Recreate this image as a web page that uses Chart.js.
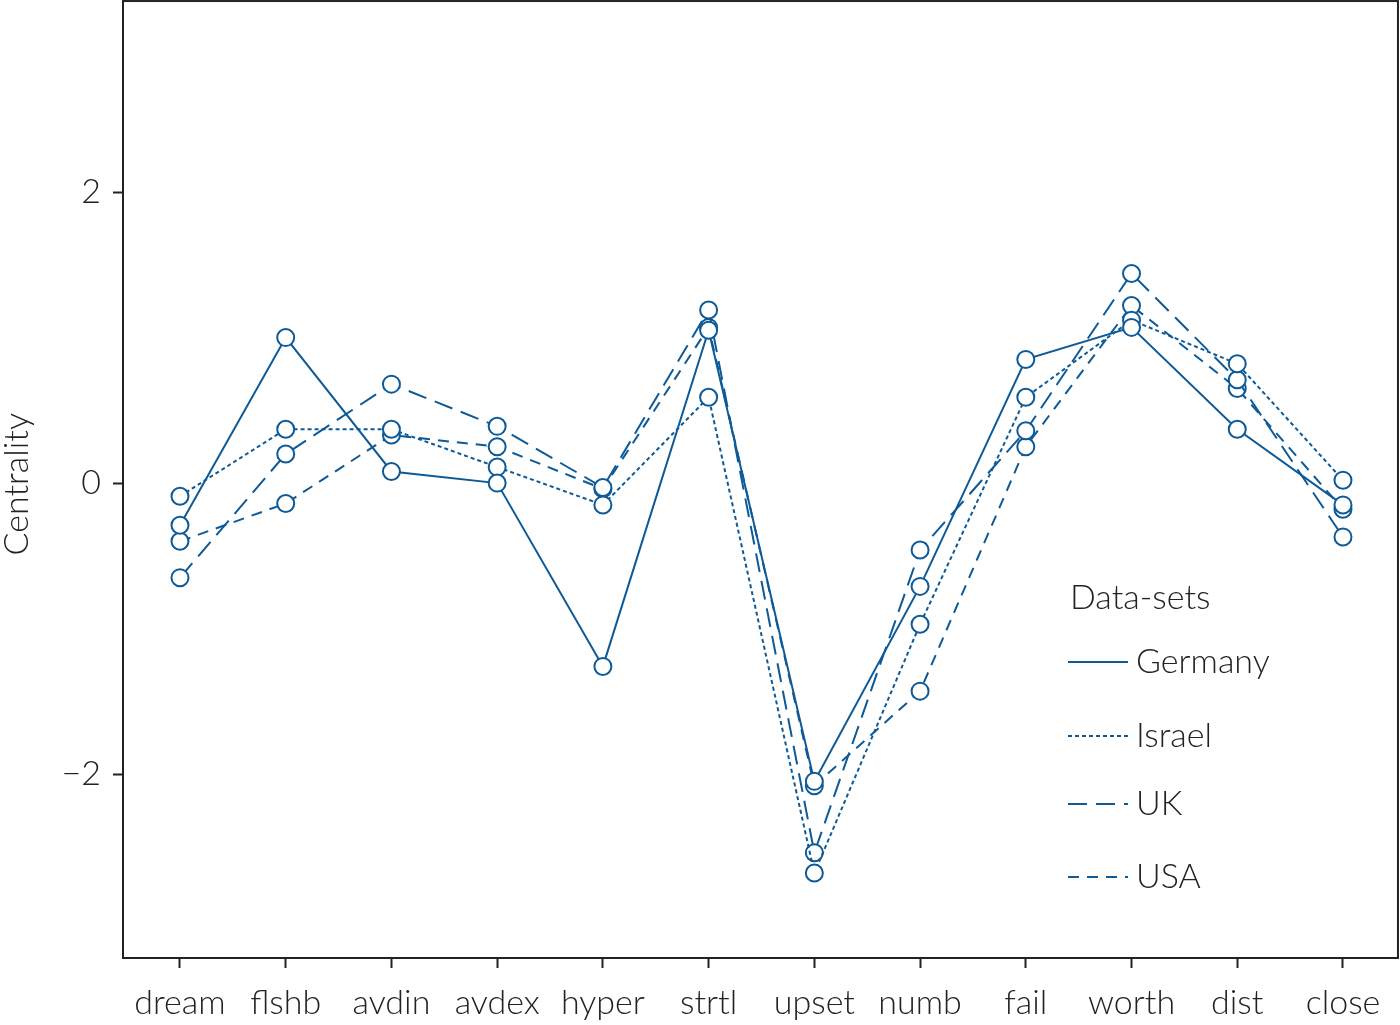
<!DOCTYPE html>
<html>
<head>
<meta charset="utf-8">
<script src="https://cdn.jsdelivr.net/npm/chart.js@4.4.1/dist/chart.umd.min.js"></script>
<style>
  html, body { margin: 0; padding: 0; background: #fff; }
  #wrap { width: 1400px; height: 1025px; }
</style>
</head>
<body>
<div id="wrap"><canvas id="centralityChart" width="1400" height="1025"></canvas></div>
<script>
// symptom categories along the x axis
const categories = ['dream', 'flshb', 'avdin', 'avdex', 'hyper', 'strtl', 'upset', 'numb', 'fail', 'worth', 'dist', 'close'];

// centrality values
const germany = [-0.29, 1.00, 0.08, 0.00, -1.26, 1.05, -2.05, -0.71, 0.85, 1.07, 0.37, -0.15];
const israel  = [-0.09, 0.37, 0.37, 0.11, -0.15, 0.59, -2.68, -0.97, 0.59, 1.12, 0.82, 0.02];
const uk      = [-0.65, 0.20, 0.68, 0.39, -0.03, 1.19, -2.54, -0.46, 0.36, 1.44, 0.71, -0.37];
const usa     = [-0.40, -0.14, 0.33, 0.25, -0.04, 1.07, -2.08, -1.43, 0.25, 1.22, 0.65, -0.18];

const yTicks = [-2, 0, 2];

// outer limits of the plot box (the point radius eats into the chart area, so the frame goes a bit past it)
const yFrameTop = 3.313;
const xFrameRight = 11.52;

const blue = '#0d5a96';
const ink = '#222';
const fontFamily = "Lato, 'Open Sans', sans-serif";

const seriesNames = ['Germany', 'Israel', 'UK', 'USA'];
const seriesValues = [germany, israel, uk, usa];
const seriesDash = [[], [4, 3], [19, 9], [11, 8]];

const datasets = seriesNames.map((name, i) => ({
    label: name,
    data: seriesValues[i].map((v, k) => ({ x: k, y: v })),
    borderColor: blue,
    borderWidth: 2,
    borderDash: seriesDash[i],
    backgroundColor: '#fff',
    pointBackgroundColor: '#fff',
    pointBorderColor: blue,
    pointBorderWidth: 2,
    pointRadius: 8.5,
    tension: 0,
    fill: false
}));

// frame round the plot and the "Data-sets" legend inside it
const framePlugin = {
    id: 'frame',
    afterDraw(chart) {
        const ctx = chart.ctx;
        const a = chart.chartArea;
        const top = chart.scales.y.getPixelForValue(yFrameTop);
        const right = chart.scales.x.getPixelForValue(xFrameRight);
        ctx.save();
        ctx.strokeStyle = ink;
        ctx.lineWidth = 2;
        ctx.strokeRect(a.left, top, right - a.left, a.bottom - top);

        ctx.font = '300 34px ' + fontFamily;
        ctx.fillStyle = ink;
        ctx.textBaseline = 'middle';
        ctx.fillText('Data-sets', 1070, 598);
        const rows = [662, 736, 804, 877];
        chart.data.datasets.forEach((ds, i) => {
            ctx.strokeStyle = ds.borderColor;
            ctx.lineWidth = 2;
            ctx.setLineDash(ds.borderDash);
            ctx.beginPath();
            ctx.moveTo(1068, rows[i]);
            ctx.lineTo(1128, rows[i]);
            ctx.stroke();
            ctx.setLineDash([]);
            ctx.fillText(ds.label, 1136, rows[i]);
        });
        ctx.restore();
    }
};

new Chart(document.getElementById('centralityChart').getContext('2d'), {
    type: 'line',
    data: { datasets: datasets },
    options: {
        responsive: false,
        animation: false,
        layout: { padding: 0 },
        plugins: {
            legend: { display: false },
            tooltip: { enabled: false }
        },
        scales: {
            x: {
                type: 'linear',
                min: -0.539,
                max: 11.44,
                afterBuildTicks: (axis) => { axis.ticks = categories.map((c, i) => ({ value: i })); },
                afterFit: (axis) => {
                    axis.height = 67;
                    axis.paddingLeft = 0;
                    axis.paddingRight = 0;
                },
                grid: { drawOnChartArea: false, drawTicks: true, tickLength: 10, tickWidth: 2, color: ink },
                border: { display: true, color: ink, width: 2 },
                ticks: {
                    padding: 15,
                    color: ink,
                    font: { family: fontFamily, size: 34, weight: '300' },
                    callback: (v) => categories[v]
                }
            },
            y: {
                type: 'linear',
                min: -3.264,
                max: 3.248,
                afterBuildTicks: (axis) => { axis.ticks = yTicks.map(v => ({ value: v })); },
                afterFit: (axis) => {
                    axis.width = 123;
                    axis.paddingTop = 0;
                    axis.paddingBottom = 0;
                },
                grid: { drawOnChartArea: false, drawTicks: true, tickLength: 10, tickWidth: 2, color: ink },
                border: { display: true, color: ink, width: 2 },
                title: {
                    display: true,
                    text: 'Centrality',
                    color: ink,
                    padding: 0,
                    font: { family: fontFamily, size: 34, weight: '300', lineHeight: 1 }
                },
                ticks: {
                    padding: 12,
                    color: ink,
                    font: { family: fontFamily, size: 34, weight: '300' },
                    callback: (v) => (v < 0 ? '\u2212' + Math.abs(v) : String(v))
                }
            }
        }
    },
    plugins: [framePlugin]
});
</script>
</body>
</html>
